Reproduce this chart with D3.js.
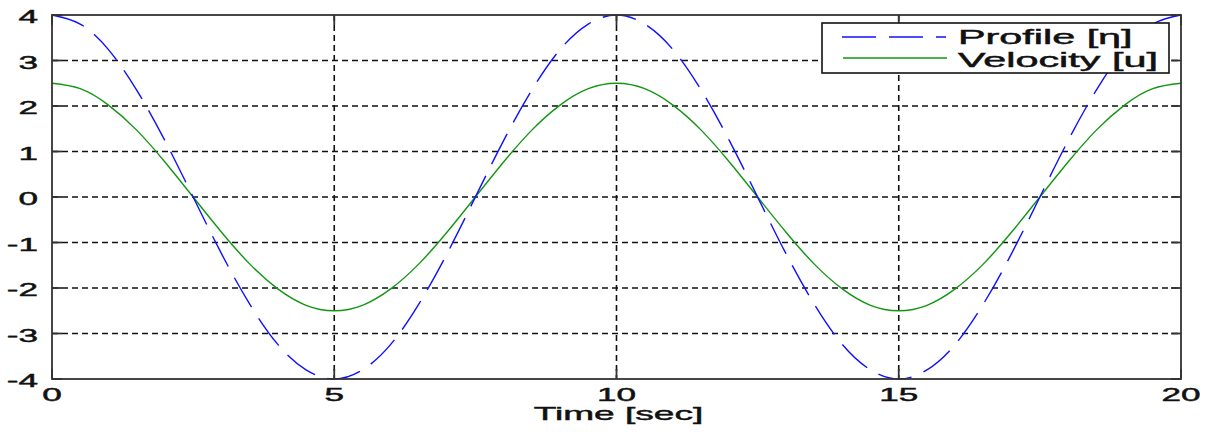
<!DOCTYPE html>
<html lang="en">
<head>
  <meta charset="UTF-8">
  <title>Profile and Velocity</title>
  <script src="https://d3js.org/d3.v7.min.js"></script>
  <style>
    body { margin: 0; background: #fff; }
    svg { display: block; }
    text { font-family: "Liberation Sans", Arial, sans-serif; fill: #111; stroke: #111; stroke-width: 0.45px; }
  </style>
</head>
<body>
  <svg width="1210" height="432"></svg>

  <script>
    // time samples (sec) and values
    const time = [0, 0.5, 1, 1.5, 2, 2.5, 3, 3.5, 4, 4.5, 5, 5.5, 6, 6.5, 7, 7.5, 8, 8.5, 9, 9.5, 10,
                  10.5, 11, 11.5, 12, 12.5, 13, 13.5, 14, 14.5, 15, 15.5, 16, 16.5, 17, 17.5, 18, 18.5, 19, 19.5, 20];
    const profile = [4, 3.8, 3.24, 2.35, 1.24, 0, -1.24, -2.35, -3.24, -3.8, -4, -3.8, -3.24, -2.35, -1.24, 0, 1.24, 2.35, 3.24, 3.8, 4,
                     3.8, 3.24, 2.35, 1.24, 0, -1.24, -2.35, -3.24, -3.8, -4, -3.8, -3.24, -2.35, -1.24, 0, 1.24, 2.35, 3.24, 3.8, 4];
    const velocity = [2.5, 2.38, 2.02, 1.47, 0.77, 0, -0.77, -1.47, -2.02, -2.38, -2.5, -2.38, -2.02, -1.47, -0.77, 0, 0.77, 1.47, 2.02, 2.38, 2.5,
                      2.38, 2.02, 1.47, 0.77, 0, -0.77, -1.47, -2.02, -2.38, -2.5, -2.38, -2.02, -1.47, -0.77, 0, 0.77, 1.47, 2.02, 2.38, 2.5];
    const xTicks = [0, 5, 10, 15, 20];
    const yTicks = [-4, -3, -2, -1, 0, 1, 2, 3, 4];
    const seriesNames = ["Profile [\u03b7]", "Velocity [u]"];

    const svg = d3.select("svg");
    const plotL = 52, plotR = 1181, plotT = 15, plotB = 379;

    const x = d3.scaleLinear().domain([0, 20]).range([plotL, plotR]);
    const y = d3.scaleLinear().domain([-4, 4]).range([plotB, plotT]);

    // the original text is stretched horizontally, so scale it in x
    function label(txt, px, py, size, anchor, sx) {
      return svg.append("text")
        .attr("transform", `translate(${px},${py}) scale(${sx},1)`)
        .attr("text-anchor", anchor)
        .attr("font-size", size)
        .text(txt);
    }

    // grid
    svg.append("g").selectAll("line")
      .data(xTicks.slice(1, -1))
      .enter().append("line")
      .attr("x1", d => x(d)).attr("x2", d => x(d))
      .attr("y1", plotT).attr("y2", plotB)
      .attr("stroke", "#111").attr("stroke-width", 1.6)
      .attr("stroke-dasharray", "6,4");
    svg.append("g").selectAll("line")
      .data(yTicks.slice(1, -1))
      .enter().append("line")
      .attr("x1", plotL).attr("x2", plotR)
      .attr("y1", d => y(d)).attr("y2", d => y(d))
      .attr("stroke", "#111").attr("stroke-width", 1.6)
      .attr("stroke-dasharray", "6,4");

    // curves
    const pts = (vals) => time.map((t, i) => [t, vals[i]]);
    const line = d3.line().x(d => x(d[0])).y(d => y(d[1])).curve(d3.curveNatural);

    svg.append("path")
      .attr("d", line(pts(velocity)))
      .attr("fill", "none").attr("stroke", "#129612").attr("stroke-width", 1.4);
    svg.append("path")
      .attr("d", line(pts(profile)))
      .attr("fill", "none").attr("stroke", "#1010ff").attr("stroke-width", 1.4)
      .attr("stroke-dasharray", "34,13");

    // axes box with inward ticks on all sides
    const tickLen = 10;
    const ax = svg.append("g").attr("stroke", "#333").attr("stroke-width", 1.8);
    ax.append("rect")
      .attr("x", plotL).attr("y", plotT)
      .attr("width", plotR - plotL).attr("height", plotB - plotT)
      .attr("fill", "none");
    xTicks.forEach(t => {
      ax.append("line").attr("x1", x(t)).attr("x2", x(t)).attr("y1", plotB).attr("y2", plotB - tickLen);
      ax.append("line").attr("x1", x(t)).attr("x2", x(t)).attr("y1", plotT).attr("y2", plotT + tickLen);
    });
    yTicks.forEach(t => {
      ax.append("line").attr("x1", plotL).attr("x2", plotL + tickLen).attr("y1", y(t)).attr("y2", y(t));
      ax.append("line").attr("x1", plotR).attr("x2", plotR - tickLen).attr("y1", y(t)).attr("y2", y(t));
    });

    // tick labels
    xTicks.forEach(t => label(String(t), x(t), 401, 18, "middle", 1.95));
    yTicks.forEach(t => label(String(t), 38, y(t) + 8, 18, "end", 1.95));

    label("Time [sec]", x(10) + 2, 420, 19, "middle", 1.95);

    // legend
    svg.append("rect")
      .attr("x", 822).attr("y", 23).attr("width", 347).attr("height", 50)
      .attr("fill", "#fff").attr("stroke", "#111").attr("stroke-width", 1.6);
    svg.append("line")
      .attr("x1", 842).attr("x2", 946).attr("y1", 37).attr("y2", 37)
      .attr("stroke", "#1010ff").attr("stroke-width", 1.4)
      .attr("stroke-dasharray", "34,13");
    svg.append("line")
      .attr("x1", 843).attr("x2", 947).attr("y1", 58).attr("y2", 58)
      .attr("stroke", "#129612").attr("stroke-width", 1.4);
    label(seriesNames[0], 958, 44, 19.5, "start", 2.12);
    label(seriesNames[1], 958, 67, 19.5, "start", 2.12);
  </script>
</body>
</html>
